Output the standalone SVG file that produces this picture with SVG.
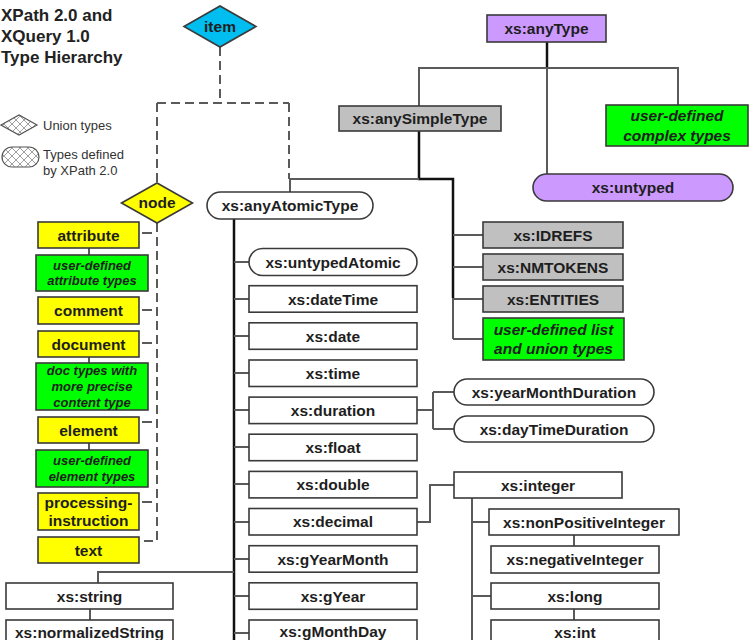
<svg xmlns="http://www.w3.org/2000/svg" width="749" height="640" viewBox="0 0 749 640">
<defs>
<pattern id="hatch" width="8" height="8" patternUnits="userSpaceOnUse">
<rect width="8" height="8" fill="#fff"/>
<path d="M0,0 L8,8 M8,0 L0,8" stroke="#888" stroke-width="0.8"/>
</pattern>
<style>
.t{font-family:"Liberation Sans",Arial,sans-serif;font-weight:bold;font-size:15.5px;fill:#1e1e1e;text-anchor:middle;dominant-baseline:central}
.ti{font-family:"Liberation Sans",Arial,sans-serif;font-weight:bold;font-style:italic;font-size:15.5px;fill:#1e1e1e;text-anchor:middle;dominant-baseline:central}
.ts{font-size:13px}
.lg{font-family:"Liberation Sans",Arial,sans-serif;font-size:13px;fill:#333}
.title{font-family:"Liberation Sans",Arial,sans-serif;font-weight:bold;font-size:17px;fill:#222}
.b{stroke:#3a3a3a;stroke-width:1.6}
.w{fill:#fff}
.y{fill:#ffff00}
.g{fill:#00ff00}
.gr{fill:#c0c0c0}
.p{fill:#cc99ff}
.c{fill:none;stroke:#5a5a5a;stroke-width:2}
.k{fill:none;stroke:#111;stroke-width:2.5}
.d{fill:none;stroke:#5a5a5a;stroke-width:2;stroke-dasharray:9 5}
</style>
</defs>
<rect width="749" height="640" fill="#fff"/>

<g id="title">
<text class="title" x="1" y="21">XPath 2.0 and</text>
<text class="title" x="1" y="42">XQuery 1.0</text>
<text class="title" x="1" y="63">Type Hierarchy</text>
</g>

<g id="legend">
<polygon points="1,125 19,115 37,125 19,135" fill="url(#hatch)" stroke="#555" stroke-width="1.2"/>
<text class="lg" x="43" y="130">Union types</text>
<rect x="2" y="147" width="37" height="20" rx="10" fill="url(#hatch)" stroke="#555" stroke-width="1.2"/>
<text class="lg" x="43" y="159">Types defined</text>
<text class="lg" x="43" y="175">by XPath 2.0</text>
</g>

<g id="connectors">
<path class="d" d="M220,47 V103 M157,103 H289 M157,103 V183 M289,103 V179"/>
<path class="d" d="M157,223 V541 H140"/>
<path class="c" d="M142,233 H152 M142,310 H152 M142,343 H152 M142,422 H152 M142,502 H152"/>
<path class="c" d="M89,248 V255 M89,357 V363 M89,443 V450"/>
<path class="k" d="M547,42 V68"/>
<path class="c" d="M419,106 V68 H678 V105 M547,68 V174"/>
<path class="k" d="M419,131 V179 H453 V298"/>
<path class="c" d="M419,179 H290 V192 M453,298 V339 M453,235 H483 M453,267 H483 M453,299 H483 M453,339 H483"/>
<path class="k" d="M234,218 V640"/>
<path class="c" d="M234,262 H249 M234,299 H249 M234,336 H249 M234,373 H249 M234,410 H249 M234,447 H249 M234,484 H249 M234,522 H249 M234,559 H249 M234,596 H249 M234,633 H249"/>
<path class="c" d="M234,572 H98 V583 M90,609 V620"/>
<path class="c" d="M417,410 H433 M433,392 V429 M433,392 H454 M433,429 H454"/>
<path class="c" d="M417,522 H430 V485 H454"/>
<path class="c" d="M472,498 V640 M472,522 H489 M472,596 H491 M574,535 V546 M574,609 V620"/>
</g>

<g id="item"><polygon class="b" points="184,26.5 220,6 256,26.5 220,47" fill="#00bff0"/><text class="t" x="220" y="26">item</text></g>
<g id="node"><polygon class="b y" points="121.5,203 157,183 192.5,203 157,223"/><text class="t" x="157" y="202">node</text></g>

<g id="attribute"><rect class="b y" x="38" y="222" width="101" height="26"/><text class="t" x="88.5" y="235">attribute</text></g>
<g id="ud-attribute"><rect class="b g" x="36" y="255" width="112" height="36"/><text class="ti ts" x="92" y="265.5">user-defined</text><text class="ti ts" x="92" y="280.5">attribute types</text></g>
<g id="comment"><rect class="b y" x="38" y="297" width="101" height="27"/><text class="t" x="88.5" y="310.5">comment</text></g>
<g id="document"><rect class="b y" x="38" y="331" width="101" height="26"/><text class="t" x="88.5" y="344">document</text></g>
<g id="doc-types"><rect class="b g" x="36" y="363" width="112" height="47"/><text class="ti ts" x="92" y="370.5">doc types with</text><text class="ti ts" x="92" y="386.5">more precise</text><text class="ti ts" x="92" y="402">content type</text></g>
<g id="element"><rect class="b y" x="38" y="417" width="101" height="26"/><text class="t" x="88.5" y="430">element</text></g>
<g id="ud-element"><rect class="b g" x="36" y="450" width="112" height="37"/><text class="ti ts" x="92" y="460.5">user-defined</text><text class="ti ts" x="92" y="476.5">element types</text></g>
<g id="processing-instruction"><rect class="b y" x="38" y="493" width="101" height="37"/><text class="t" x="88.5" y="502.5">processing-</text><text class="t" x="88.5" y="520.5">instruction</text></g>
<g id="text"><rect class="b y" x="38" y="537" width="101" height="26"/><text class="t" x="88.5" y="550">text</text></g>

<g id="anyType"><rect class="b p" x="487" y="15" width="119" height="27"/><text class="t" x="546.5" y="28.5">xs:anyType</text></g>
<g id="anySimpleType"><rect class="b gr" x="339" y="106" width="162" height="25"/><text class="t" x="420" y="118.5">xs:anySimpleType</text></g>
<g id="ud-complex"><rect class="b g" x="606" y="105" width="142" height="41"/><text class="ti" x="677" y="115.5">user-defined</text><text class="ti" x="677" y="135">complex types</text></g>
<g id="untyped"><rect class="b p" x="533" y="174" width="200" height="27" rx="13.5"/><text class="t" x="633" y="187.5">xs:untyped</text></g>
<g id="anyAtomicType"><rect class="b w" x="207" y="192" width="166" height="27" rx="13.5"/><text class="t" x="290" y="205.5">xs:anyAtomicType</text></g>

<g id="IDREFS"><rect class="b gr" x="483" y="222" width="140" height="26"/><text class="t" x="553" y="235">xs:IDREFS</text></g>
<g id="NMTOKENS"><rect class="b gr" x="483" y="254" width="140" height="26"/><text class="t" x="553" y="267">xs:NMTOKENS</text></g>
<g id="ENTITIES"><rect class="b gr" x="483" y="286" width="140" height="26"/><text class="t" x="553" y="299">xs:ENTITIES</text></g>
<g id="ud-list"><rect class="b g" x="483" y="318" width="141" height="42"/><text class="ti" x="553.5" y="329">user-defined list</text><text class="ti" x="553.5" y="348">and union types</text></g>

<g id="untypedAtomic"><rect class="b w" x="249" y="248.5" width="168" height="27" rx="13.5"/><text class="t" x="333" y="262">xs:untypedAtomic</text></g>
<g id="dateTime"><rect class="b w" x="249" y="285.7" width="168" height="26.5"/><text class="t" x="333" y="299">xs:dateTime</text></g>
<g id="date"><rect class="b w" x="249" y="322.8" width="168" height="26.5"/><text class="t" x="333" y="336">xs:date</text></g>
<g id="time"><rect class="b w" x="249" y="360" width="168" height="26.5"/><text class="t" x="333" y="373.2">xs:time</text></g>
<g id="duration"><rect class="b w" x="249" y="397.1" width="168" height="26.5"/><text class="t" x="333" y="410.3">xs:duration</text></g>
<g id="float"><rect class="b w" x="249" y="434.2" width="168" height="26.5"/><text class="t" x="333" y="447.5">xs:float</text></g>
<g id="double"><rect class="b w" x="249" y="471.4" width="168" height="26.5"/><text class="t" x="333" y="484.6">xs:double</text></g>
<g id="decimal"><rect class="b w" x="249" y="508.5" width="168" height="26.5"/><text class="t" x="333" y="521.8">xs:decimal</text></g>
<g id="gYearMonth"><rect class="b w" x="249" y="545.7" width="168" height="26.5"/><text class="t" x="333" y="559">xs:gYearMonth</text></g>
<g id="gYear"><rect class="b w" x="249" y="582.8" width="168" height="26.5"/><text class="t" x="333" y="596">xs:gYear</text></g>
<g id="gMonthDay"><rect class="b w" x="249" y="620" width="168" height="26.5"/><text class="t" x="333" y="631">xs:gMonthDay</text></g>

<g id="yearMonthDuration"><rect class="b w" x="454" y="379" width="200" height="26" rx="13"/><text class="t" x="554" y="392">xs:yearMonthDuration</text></g>
<g id="dayTimeDuration"><rect class="b w" x="454" y="416" width="200" height="26" rx="13"/><text class="t" x="554" y="429">xs:dayTimeDuration</text></g>

<g id="integer"><rect class="b w" x="454" y="472" width="168" height="26"/><text class="t" x="538" y="485">xs:integer</text></g>
<g id="nonPositiveInteger"><rect class="b w" x="489" y="509" width="190" height="26"/><text class="t" x="584" y="522">xs:nonPositiveInteger</text></g>
<g id="negativeInteger"><rect class="b w" x="491" y="546" width="168" height="27"/><text class="t" x="575" y="559.5">xs:negativeInteger</text></g>
<g id="long"><rect class="b w" x="491" y="583" width="168" height="26"/><text class="t" x="575" y="596">xs:long</text></g>
<g id="int"><rect class="b w" x="491" y="620" width="168" height="26"/><text class="t" x="575" y="632">xs:int</text></g>

<g id="string"><rect class="b w" x="6" y="583" width="167" height="26"/><text class="t" x="89.5" y="596">xs:string</text></g>
<g id="normalizedString"><rect class="b w" x="6" y="620" width="167" height="26"/><text class="t" x="89.5" y="632">xs:normalizedString</text></g>
</svg>
